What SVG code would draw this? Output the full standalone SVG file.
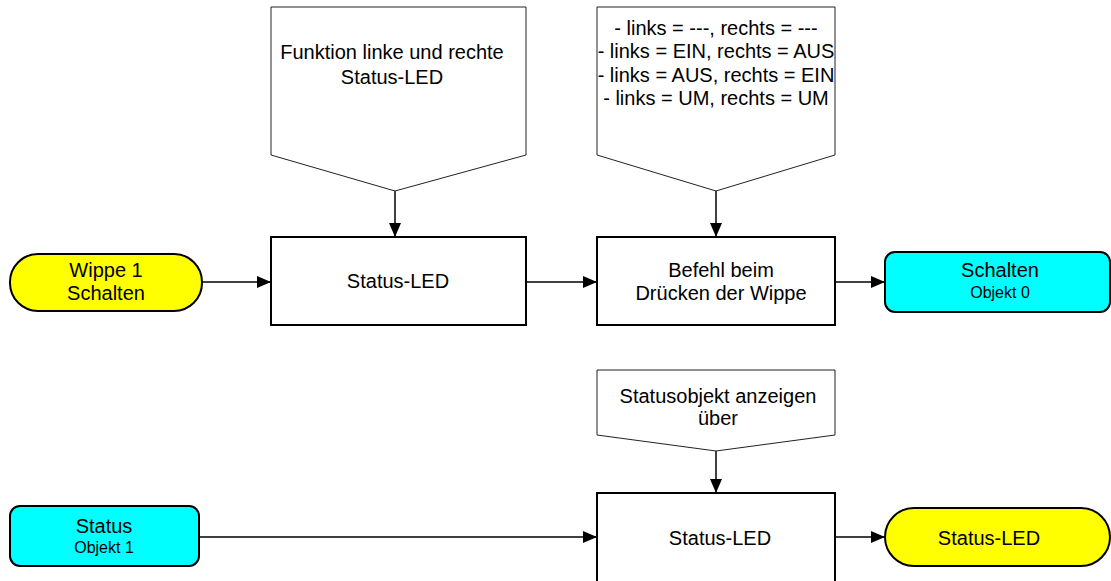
<svg xmlns="http://www.w3.org/2000/svg" width="1111" height="581" viewBox="0 0 1111 581">
<style>
text{font-family:"Liberation Sans",Arial,sans-serif;fill:#000;text-anchor:middle}
.t{font-size:20px}
.s{font-size:16px}
.pent{fill:#fff;stroke:#222;stroke-width:1}
.box{fill:#fff;stroke:#000;stroke-width:2}
.yel{fill:#ffff00;stroke:#000;stroke-width:2}
.cyn{fill:#00ffff;stroke:#000;stroke-width:2}
.c{stroke:#000;stroke-width:1.5;fill:none;marker-end:url(#ah)}
</style>
<defs>
<marker id="ah" markerWidth="14" markerHeight="12" refX="14" refY="6" orient="auto" markerUnits="userSpaceOnUse">
<path d="M0,0 L14,6 L0,12 Z" fill="#000"/>
</marker>
</defs>
<g id="connectors">
<line class="c" x1="202" y1="282" x2="271" y2="282"/>
<line class="c" x1="526" y1="282" x2="597" y2="282"/>
<line class="c" x1="835" y1="282" x2="885" y2="282"/>
<line class="c" x1="395" y1="191" x2="395" y2="237"/>
<line class="c" x1="716" y1="191" x2="716" y2="237"/>
<line class="c" x1="716" y1="451" x2="716" y2="493"/>
<line class="c" x1="199" y1="537" x2="597" y2="537"/>
<line class="c" x1="835" y1="537" x2="885" y2="537"/>
</g>
<g id="wippe">
<rect class="yel" x="10" y="254" width="192" height="57" rx="28" ry="28"/>
<text class="t" x="106" y="277">Wippe 1</text>
<text class="t" x="106" y="300">Schalten</text>
</g>
<g id="funktion">
<path class="pent" d="M271,7 H526 V155 L395,191 L271,155 Z"/>
<text class="t" x="392" y="59">Funktion linke und rechte</text>
<text class="t" x="392" y="84">Status-LED</text>
</g>
<g id="statusled1">
<rect class="box" x="271" y="237" width="255" height="88"/>
<text class="t" x="398" y="288">Status-LED</text>
</g>
<g id="optionen">
<path class="pent" d="M597,7 H835 V155 L716,191 L597,155 Z"/>
<text class="t" x="716" y="35">- links = ---, rechts = ---</text>
<text class="t" x="716" y="58">- links = EIN, rechts = AUS</text>
<text class="t" x="716" y="82">- links = AUS, rechts = EIN</text>
<text class="t" x="716" y="105">- links = UM, rechts = UM</text>
</g>
<g id="befehl">
<rect class="box" x="597" y="237" width="238" height="88"/>
<text class="t" x="721" y="277">Befehl beim</text>
<text class="t" x="721" y="300">Drücken der Wippe</text>
</g>
<g id="schalten">
<rect class="cyn" x="885" y="252" width="225" height="60" rx="10" ry="10"/>
<text class="t" x="1000" y="277">Schalten</text>
<text class="s" x="1000" y="298">Objekt 0</text>
</g>
<g id="statusobjekt">
<path class="pent" d="M597,370 H835 V435 L716,451 L597,435 Z"/>
<text class="t" x="718" y="403">Statusobjekt anzeigen</text>
<text class="t" x="718" y="425">über</text>
</g>
<g id="statusled2">
<rect class="box" x="597" y="493" width="238" height="90"/>
<text class="t" x="720" y="545">Status-LED</text>
</g>
<g id="status">
<rect class="cyn" x="10" y="506" width="189" height="60" rx="10" ry="10"/>
<text class="t" x="104" y="533">Status</text>
<text class="s" x="104" y="553">Objekt 1</text>
</g>
<g id="statusled3">
<rect class="yel" x="885" y="508" width="225" height="58" rx="29" ry="29"/>
<text class="t" x="989" y="545">Status-LED</text>
</g>
</svg>
